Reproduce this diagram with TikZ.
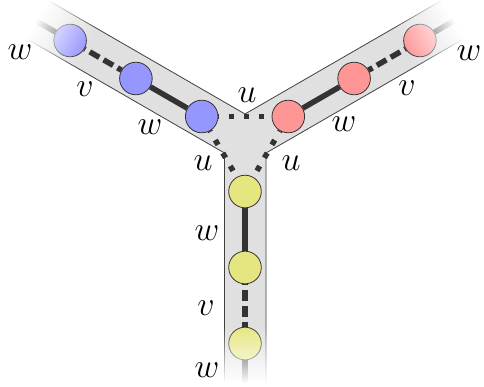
\documentclass[tikz,border=0pt]{standalone}
\DeclareFontShape{OML}{cmm}{m}{it}{<->cmmi12}{}
\usetikzlibrary{fadings}
\tikzfading[name=armfade, left color=transparent!100, right color=transparent!0]
\definecolor{bandgray}{RGB}{224,224,224}
\definecolor{linegray}{RGB}{51,51,51}
\definecolor{cblue}{RGB}{150,150,255}
\definecolor{cred}{RGB}{255,150,150}
\definecolor{cyellow}{RGB}{230,230,128}
\begin{document}
\begin{tikzpicture}[x=1pt,y=-1pt,
  ball/.style={circle, draw=black!80, line width=0.8pt, minimum size=32.6pt, inner sep=0pt},
  solidlink/.style={linegray, line width=5.5pt},
  dashlink/.style={linegray, line width=5.5pt, dash pattern=on 11pt off 5pt, dash phase=10pt},
  dotlink/.style={linegray, line width=5.5pt, dash pattern=on 5.5pt off 9.5pt, dash phase=4.5pt},
  bandedge/.style={black!75, line width=0.8pt},
  lab/.style={font=\fontsize{34}{40}\selectfont, inner sep=0pt}]
\useasboundingbox (0,0) rectangle (484,386);
% band
\coordinate (V) at (245,114);
\coordinate (L) at (224.5,153);
\coordinate (R) at (266,153);
\coordinate (bu) at (49.3,1);
\coordinate (bl) at (27,39);
\coordinate (ru) at (440.7,1);
\coordinate (rl) at (463.1,39.2);
\coordinate (yl) at (224.5,381.5);
\coordinate (yr) at (266,381.5);
\fill[bandgray] (bu) -- (V) -- (ru) -- (rl) -- (R) -- (yr) -- (yl) -- (L) -- (bl) -- cycle;
\draw[bandedge] (bu) -- (V) -- (ru);
\draw[bandedge] (rl) -- (R) -- (yr);
\draw[bandedge] (yl) -- (L) -- (bl);
% balls
\node[ball, fill=cblue] (b1) at (70.1,40.5) {};
\node[ball, fill=cblue] (b2) at (135.9,78.5) {};
\node[ball, fill=cblue] (b3) at (201.7,116.5) {};
\node[ball, fill=cred] (r1) at (419.9,40.5) {};
\node[ball, fill=cred] (r2) at (354.1,78.5) {};
\node[ball, fill=cred] (r3) at (288.3,116.5) {};
\node[ball, fill=cyellow] (y1) at (245,191.5) {};
\node[ball, fill=cyellow] (y2) at (245,267.5) {};
\node[ball, fill=cyellow] (y3) at (245,343.5) {};
\coordinate (be) at (28.5,16.5);
\coordinate (re) at (461.5,16.5);
\coordinate (ye) at (245,391.5);
% links
\draw[solidlink] (b1) -- (be);
\draw[dashlink] (b1) -- (b2);
\draw[solidlink] (b2) -- (b3);
\draw[solidlink] (r1) -- (re);
\draw[dashlink] (r1) -- (r2);
\draw[solidlink] (r2) -- (r3);
\draw[solidlink] (y1) -- (y2);
\draw[dashlink] (y2) -- (y3);
\draw[solidlink] (y3) -- (ye);
\draw[dotlink] (b3) -- (r3);
\draw[dotlink] (b3) -- (y1);
\draw[dotlink] (r3) -- (y1);
% fading ends
\begin{scope}[transform canvas={shift={(245,141.5)}, rotate=150}]
  \fill[white, path fading=armfade] (184,-34) rectangle (242,34);
  \fill[white] (241.5,-34) rectangle (275,34);
\end{scope}
\begin{scope}[transform canvas={shift={(245,141.5)}, rotate=30}]
  \fill[white, path fading=armfade] (184,-34) rectangle (242,34);
  \fill[white] (241.5,-34) rectangle (275,34);
\end{scope}
\begin{scope}[transform canvas={shift={(245,141.5)}, rotate=-90}]
  \fill[white, path fading=armfade] (184,-34) rectangle (242,34);
  \fill[white] (241.5,-34) rectangle (275,34);
\end{scope}
% labels
\node[lab] (lbw1) at (20,52) {$w$};
\node[lab] (lbv) at (85,89) {$v$};
\node[lab] (lbw2) at (150,127) {$w$};
\node[lab] (lut) at (247,95) {$u$};
\node[lab] (lul) at (203,163) {$u$};
\node[lab] (lur) at (291,163) {$u$};
\node[lab] (lrw2) at (344,124) {$w$};
\node[lab] (lrv) at (407,88) {$v$};
\node[lab] (lrw1) at (469,53) {$w$};
\node[lab] (lyw1) at (207,233) {$w$};
\node[lab] (lyv) at (206,308) {$v$};
\node[lab] (lyw2) at (207,370) {$w$};
\end{tikzpicture}
\end{document}
